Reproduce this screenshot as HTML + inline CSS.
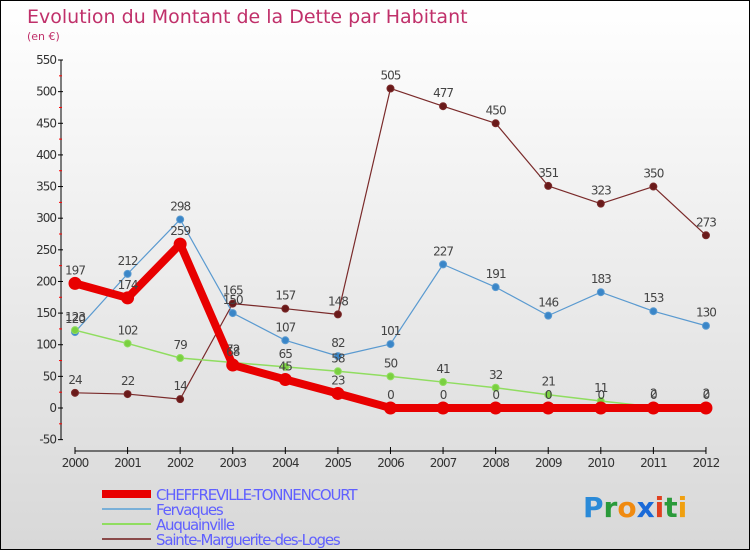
<!DOCTYPE html>
<html><head><meta charset="utf-8"><style>
body{margin:0}
#wrap{width:748px;height:548px;border:1px solid #000;background:linear-gradient(#fff,#d8d8d8);position:relative;overflow:hidden;font-family:"DejaVu Sans","Liberation Sans",sans-serif}
</style></head><body>
<div id="wrap">
<svg id="svg" width="748" height="548" style="position:absolute;left:0;top:0"></svg>
</div>
<script>
const years=[2000,2001,2002,2003,2004,2005,2006,2007,2008,2009,2010,2011,2012];
const cheff=[197,174,259,68,45,23,0,0,0,0,0,0,0];
const ferv=[120,212,298,150,107,82,101,227,191,146,183,153,130];
const auq=[123,102,79,72,65,58,50,41,32,21,11,2,2];
const sainte=[24,22,14,165,157,148,505,477,450,351,323,350,273];
const yTicks=[-50,0,50,100,150,200,250,300,350,400,450,500,550];
const names=["CHEFFREVILLE-TONNENCOURT","Fervaques","Auquainville","Sainte-Marguerite-des-Loges"];
const NS="http://www.w3.org/2000/svg";
const svg=document.getElementById('svg');
const X=i=>74+i*52.58;
const Y=v=>407-v*0.6327;
function el(t,a,txt){const e=document.createElementNS(NS,t);for(const k in a)e.setAttribute(k,a[k]);if(txt!==undefined)e.textContent=txt;svg.appendChild(e);return e;}
let e;
e=el('text',{x:26,y:22,'font-size':19,fill:'#c0306a'},'Evolution du Montant de la Dette par Habitant');

e=el('text',{x:26,y:39,'font-size':11,fill:'#c0306a'},'(en €)');

e=el('line',{x1:60,y1:Y(550),x2:60,y2:Y(-50),stroke:'#000'});

yTicks.forEach((t,i)=>{
 e=el('line',{x1:57,y1:Y(t),x2:62,y2:Y(t),stroke:'#000'});
 
 if(i<yTicks.length-1){e=el('line',{x1:58,y1:Y(t+25),x2:61,y2:Y(t+25),stroke:'#f00'});
 }
 e=el('text',{x:55,y:Y(t)+4,'font-size':12,fill:'#333','text-anchor':'end','letter-spacing':'-1'},t);
 
});
e=el('line',{x1:X(0),y1:450,x2:X(12),y2:450,stroke:'#000'});

years.forEach((y,i)=>{
 e=el('line',{x1:X(i),y1:446,x2:X(i),y2:453,stroke:'#000'});
 
 e=el('text',{x:X(i),y:466,'font-size':12,fill:'#333','text-anchor':'middle','letter-spacing':'-1'},y);
 
});
function series(d,color,w,r,fill,name){
 e=el('polyline',{points:d.map((v,i)=>X(i)+','+Y(v)).join(' '),fill:'none',stroke:color,'stroke-width':w,'stroke-linejoin':'round'});
 
 d.forEach((v,i)=>{
  e=el('circle',{cx:X(i),cy:Y(v),r:r,fill:fill,stroke:color,'stroke-width':1});
  
  e=el('text',{x:X(i),y:Y(v)-9,'font-size':12,fill:'#444','text-anchor':'middle','letter-spacing':'-1'},v);
  
 });
}
series(sainte,'#7a2a2a',1.2,3.5,'#6a1a1a','sainte');
series(ferv,'#5a9ad0',1.2,3.5,'#3a86c8','fervaques');
series(auq,'#90dd60',1.5,3.5,'#7ad040','auquainville');
series(cheff,'#e80000',8,6,'#e80000','cheffreville');
const lc=['#e80000','#7ab0d8','#90dd60','#8a4a4a'],lw=[8,2,2,2];
names.forEach((n,i)=>{
 const y=493+i*15;
 e=el('line',{x1:101,y1:y,x2:150,y2:y,stroke:lc[i],'stroke-width':lw[i]});
 
 e=el('text',{x:155,y:y+6,'font-size':15,fill:'#6060ff','letter-spacing':'-1.2'},n);
 
});
e=el('text',{x:582,y:516,'font-size':28,'font-weight':'bold'});

[['P','#2a8ad8'],['r','#2a9a3a'],['o','#f08a10'],['x','#1a6ad8'],['i','#e04020'],['t','#2a9a3a'],['i','#f0a010']].forEach(([c,f])=>{const s=document.createElementNS(NS,'tspan');s.setAttribute('fill',f);s.textContent=c;e.appendChild(s);});
</script>
</body></html>
